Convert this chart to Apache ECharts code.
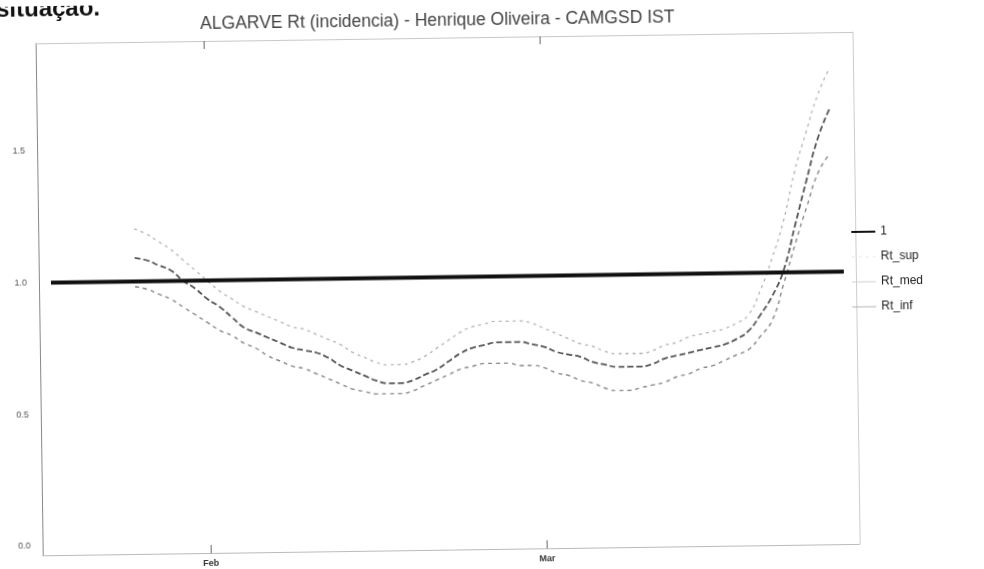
<!DOCTYPE html>
<html>
<head>
<meta charset="utf-8">
<script src="https://cdn.jsdelivr.net/npm/echarts@6/dist/echarts.min.js"></script>
<style>
  html, body { margin: 0; padding: 0; background: #fff; overflow: hidden; }
  #chart { width: 984px; height: 569px; transform: rotate(-0.8deg); transform-origin: 50% 50%; }
</style>
</head>
<body>
<div id="chart"></div>
<script>
// x axis runs day by day from Jan 18 to Mar 27
const axisStart = '2021-01-18';
const axisEnd = '2021-03-27';
const monthNames = { '02': 'Feb', '03': 'Mar' };
const yTicks = [0, 0.5, 1.0, 1.5];

// Rt estimates, one value per day from Jan 26 to Mar 25
const rtStart = '2021-01-26';
const rtSup = [
  1.20, 1.18, 1.15, 1.12, 1.08, 1.04,
  1.00, 0.96, 0.93, 0.90, 0.88, 0.86, 0.84, 0.82, 0.81, 0.79, 0.77, 0.75, 0.72, 0.70,
  0.68, 0.67, 0.67, 0.68, 0.70, 0.73, 0.76, 0.79, 0.81, 0.82, 0.83, 0.83, 0.83, 0.82,
  0.80, 0.78, 0.76, 0.74, 0.73, 0.71, 0.70, 0.70, 0.70, 0.71, 0.73, 0.74, 0.76, 0.77,
  0.78, 0.79, 0.81, 0.84, 0.93, 1.05, 1.19, 1.38, 1.53, 1.67, 1.77
];
const rtMed = [
  1.09, 1.08, 1.06, 1.04, 1.00, 0.97,
  0.93, 0.90, 0.86, 0.82, 0.80, 0.78, 0.76, 0.74, 0.73, 0.72, 0.70, 0.67, 0.65, 0.63,
  0.61, 0.60, 0.60, 0.61, 0.63, 0.65, 0.68, 0.71, 0.73, 0.74, 0.75, 0.75, 0.75, 0.74,
  0.73, 0.71, 0.70, 0.69, 0.67, 0.66, 0.65, 0.65, 0.65, 0.66, 0.68, 0.69, 0.70, 0.71,
  0.72, 0.73, 0.75, 0.78, 0.84, 0.91, 1.01, 1.18, 1.35, 1.51, 1.62
];
const rtInf = [
  0.98, 0.97, 0.95, 0.93, 0.90, 0.87,
  0.84, 0.81, 0.79, 0.76, 0.74, 0.71, 0.69, 0.67, 0.66, 0.64, 0.62, 0.60, 0.58, 0.57,
  0.56, 0.56, 0.56, 0.57, 0.59, 0.61, 0.63, 0.65, 0.66, 0.67, 0.67, 0.67, 0.66, 0.66,
  0.65, 0.63, 0.62, 0.60, 0.59, 0.57, 0.56, 0.56, 0.57, 0.58, 0.59, 0.61, 0.62, 0.64,
  0.65, 0.67, 0.69, 0.71, 0.76, 0.82, 0.96, 1.11, 1.25, 1.38, 1.45
];

// reference line Rt = 1
const oneStart = '2021-01-19';
const oneEnd = '2021-03-26';
const oneValue = 1;

const dayMs = 24 * 3600 * 1000;
const toDay = (s) => Date.parse(s + 'T00:00:00Z');
const categories = [];
for (let t = toDay(axisStart); t <= toDay(axisEnd); t += dayMs) {
  categories.push(new Date(t).toISOString().slice(0, 10));
}

const placeSeries = (start, values) => {
  const offset = categories.indexOf(start);
  return categories.map((c, i) => {
    const v = values[i - offset];
    return v === undefined ? null : v;
  });
};
const oneData = categories.map((c) => (c >= oneStart && c <= oneEnd ? oneValue : null));

const isMonthStart = (index, value) => value.slice(8) === '01' && monthNames[value.slice(5, 7)] !== undefined;

const chart = echarts.init(document.getElementById('chart'));
chart.setOption({
  animation: false,
  title: {
    text: 'ALGARVE Rt (incidencia) - Henrique Oliveira - CAMGSD IST',
    left: 436,
    textAlign: 'center',
    top: 6,
    textStyle: { fontSize: 17.5, fontWeight: 'normal', color: '#444', fontFamily: 'Liberation Sans' },
  },
  graphic: [
    {
      type: 'text',
      left: 0,
      top: -9,
      style: { text: 'situação.', font: 'bold 24px "Liberation Sans"', fill: '#111' },
    },
  ],
  legend: {
    orient: 'vertical',
    left: 846,
    top: 226,
    itemWidth: 24,
    itemHeight: 10,
    itemGap: 13,
    itemStyle: { opacity: 0 },
    textStyle: { fontSize: 12, color: '#222', fontFamily: 'Liberation Sans' },
    data: [
      { name: '1' },
      { name: 'Rt_sup', lineStyle: { color: '#f2f2f2' } },
      { name: 'Rt_med', lineStyle: { color: '#cfcfcf', type: 'solid', width: 1 } },
      { name: 'Rt_inf', lineStyle: { color: '#b5b5b5', type: 'solid', width: 1 } },
    ],
  },
  grid: { left: 39, right: 128, top: 37, bottom: 20 },
  xAxis: [
    {
      type: 'category',
      data: categories,
      boundaryGap: false,
      axisLine: { onZero: false, lineStyle: { color: '#bbb', width: 1 } },
      axisTick: { inside: true, length: 8, interval: isMonthStart, lineStyle: { color: '#666' } },
      axisLabel: {
        interval: isMonthStart,
        formatter: (v) => monthNames[v.slice(5, 7)],
        fontSize: 9,
        fontWeight: 'bold',
        color: '#333',
        margin: 6,
        fontFamily: 'Liberation Sans',
      },
      splitLine: { show: false },
    },
    {
      type: 'category',
      position: 'top',
      data: categories,
      boundaryGap: false,
      axisLine: { show: true, onZero: false, lineStyle: { color: '#c8c8c8', width: 1 } },
      axisTick: { show: true, inside: true, length: 8, interval: isMonthStart, lineStyle: { color: '#666' } },
      axisLabel: { show: false },
      splitLine: { show: false },
    },
  ],
  yAxis: [
    {
      type: 'value',
      min: -0.035,
      max: 1.91,
      axisLine: { show: true, onZero: false, lineStyle: { color: '#888', width: 1 } },
      axisTick: { show: false },
      axisLabel: {
        customValues: yTicks,
        formatter: (v) => v.toFixed(1),
        fontSize: 9,
        color: '#555',
        margin: 12,
        fontFamily: 'Liberation Sans',
      },
      splitLine: { show: false },
    },
    {
      type: 'value',
      position: 'right',
      min: -0.035,
      max: 1.91,
      axisLine: { show: true, onZero: false, lineStyle: { color: '#ccc', width: 1 } },
      axisTick: { show: false },
      axisLabel: { show: false },
      splitLine: { show: false },
    },
  ],
  series: [
    {
      name: '1',
      type: 'line',
      data: oneData,
      connectNulls: true,
      symbol: 'none',
      color: '#111',
      lineStyle: { width: 4, color: '#111' },
      z: 5,
    },
    {
      name: 'Rt_sup',
      type: 'line',
      data: placeSeries(rtStart, rtSup),
      smooth: true,
      symbol: 'none',
      color: '#b3b3b3',
      lineStyle: { width: 1.3, color: '#b3b3b3', type: [3, 4] },
    },
    {
      name: 'Rt_med',
      type: 'line',
      data: placeSeries(rtStart, rtMed),
      smooth: true,
      symbol: 'none',
      color: '#555',
      lineStyle: { width: 1.8, color: '#555', type: [6, 3] },
    },
    {
      name: 'Rt_inf',
      type: 'line',
      data: placeSeries(rtStart, rtInf),
      smooth: true,
      symbol: 'none',
      color: '#888',
      lineStyle: { width: 1.4, color: '#888', type: [4, 4] },
    },
  ],
});
</script>
</body>
</html>
